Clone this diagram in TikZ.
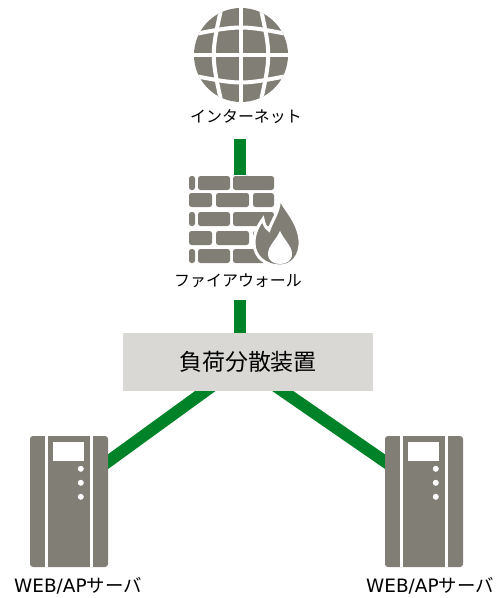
\documentclass[tikz,border=0pt]{standalone}
\usepackage{fontspec}
\setmainfont{Noto Sans CJK JP}
\newfontfamily\latn{DejaVu Sans}
\usetikzlibrary{positioning,calc,backgrounds}
\definecolor{icongray}{RGB}{128,126,117}
\definecolor{lbgray}{RGB}{217,216,212}
\definecolor{linkgreen}{RGB}{0,130,40}
\tikzset{
	link/.style={linkgreen,line width=12bp},
	label/.style={inner sep=0pt,font=\fontsize{16}{16}\selectfont},
	srvlabel/.style={inner sep=0pt,font=\fontsize{18.5}{18.5}\selectfont},
	server/.style={fill=icongray,rounded corners=3bp,minimum width=78bp,minimum height=131bp,inner sep=0pt},
	brick/.style={fill=icongray,rounded corners=2.5bp},
}
\begin{document}
\begin{tikzpicture}[x=1bp,y=-1bp,align=center]
	\useasboundingbox (0,0) rectangle (498,598);
	% globe
	\coordinate (globe) at (241,55);
	\fill[icongray] (globe) circle (47);
	\begin{scope}[white,line width=4bp]
		\clip (globe) circle (47);
		\draw (241,0) -- (241,110);
		\draw (222,5) .. controls (211,55) .. (222,105);
		\draw (260,5) .. controls (271,55) .. (260,105);
		\draw (190,55) -- (292,55);
		\draw (190,35) .. controls (241,25) .. (292,35);
		\draw (190,75) .. controls (241,85) .. (292,75);
	\end{scope}
	\draw (246,117) node[label](inet){インターネット};
	% firewall
	\foreach \y in {176,212,249}{
		\fill[brick] (189,\y) rectangle (195,\y+14);
		\fill[brick] (198,\y) rectangle (230,\y+14);
		\fill[brick] (233,\y) rectangle (274,\y+14);
	}
	\foreach \y in {193,231}{
		\fill[brick] (189,\y) rectangle (212,\y+14);
		\fill[brick] (216,\y) rectangle (249,\y+14);
		\fill[brick] (253,\y) rectangle (274,\y+14);
	}
	\filldraw[fill=icongray,draw=white,line width=3bp] (279,196)
		.. controls (283,208) and (298,220) .. (300,240)
		.. controls (301,256) and (292,266) .. (280,266)
		.. controls (266,266) and (254,257) .. (254,243)
		.. controls (254,233) and (258,226) .. (263,219)
		.. controls (264,225) and (266,228) .. (269,230)
		.. controls (272,220) and (281,210) .. (279,196) -- cycle;
	\fill[white] (280,231) .. controls (276,240) and (268,246) .. (268,254)
		.. controls (268,261) and (274,264) .. (280,264)
		.. controls (286,264) and (292,261) .. (292,254)
		.. controls (292,246) and (284,240) .. (280,231) -- cycle;
	\coordinate (fwtop) at (240,175);
	\draw (238,281) node[label](fw){ファイアウォール};
	% load balancer
	\draw (248,362) node[fill=lbgray,minimum width=250bp,minimum height=58bp,font=\fontsize{23}{23}\selectfont](lb){負荷分散装置};
	% servers
	\foreach \s/\x in {srvL/69,srvR/424}{
		\node[server] (\s) at (\x,501.5) {};
		\fill[white] ([xshift=15bp]\s.north west) rectangle ([xshift=18bp]\s.south west);
		\fill[white] ([xshift=-15bp]\s.north east) rectangle ([xshift=-18bp]\s.south east);
		\fill[white] ($(\s.north west)+(23,6)$) rectangle ($(\s.north west)+(54,25)$);
		\foreach \d in {33,47,61}
			\fill[white] ($(\s.north west)+(51,\d)$) circle (3);
	}
	\draw (78,586) node[srvlabel](webL){{\latn WEB/AP}サーバ};
	\draw (430,586) node[srvlabel](webR){{\latn WEB/AP}サーバ};
	% links
	\begin{scope}[on background layer]
		\draw[link] ([yshift=-15bp]inet.south-|fwtop) -- (fwtop);
		\draw[link] ([yshift=-12bp]fw.south-|fwtop) -- ([yshift=-6bp]lb.north-|fwtop);
		\draw[link,shorten <=-12bp,shorten >=-12bp] ([xshift=-43bp]lb.south) -- ([yshift=40bp]srvL.east);
		\draw[link,shorten <=-12bp,shorten >=-12bp] ([xshift=35bp]lb.south) -- ([yshift=40bp]srvR.west);
	\end{scope}
\end{tikzpicture}
\end{document}
